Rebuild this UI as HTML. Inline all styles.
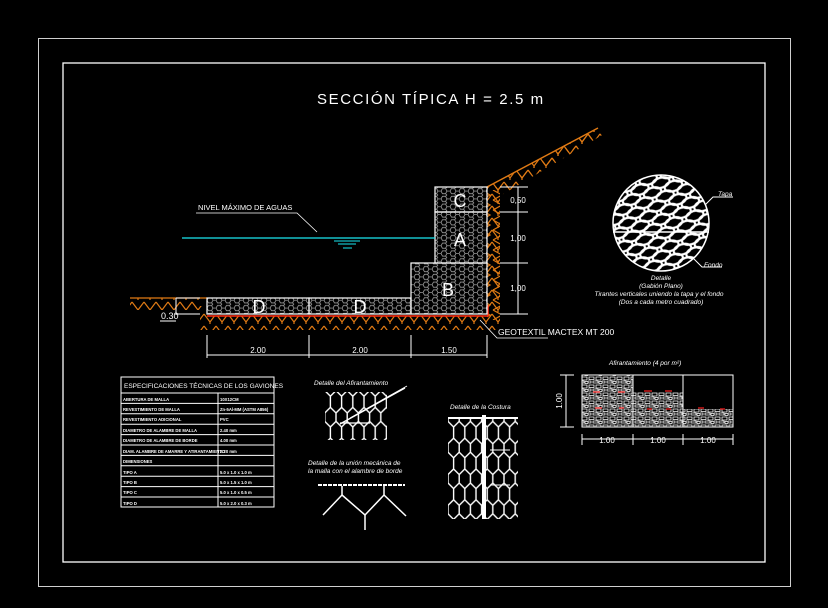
<!DOCTYPE html>
<html><head><meta charset="utf-8"><style>
html,body{margin:0;padding:0;background:#000;}
svg{display:block}
text{font-family:"Liberation Sans",sans-serif;fill:#fff}
</style></head><body>
<svg width="828" height="608" viewBox="0 0 828 608" xmlns="http://www.w3.org/2000/svg">
<defs>
<pattern id="hex" width="9" height="7.8" patternUnits="userSpaceOnUse">
<path d="M0,3.9 L1.5,1.3 L4.5,1.3 L6,3.9 L4.5,6.5 L1.5,6.5 Z M6,3.9 L9,3.9 M4.5,6.5 L6,7.8 M4.5,1.3 L6,0" fill="none" stroke="#9a9a9a" stroke-width="0.8"/>
</pattern>
<pattern id="hatch" width="12" height="12" patternUnits="userSpaceOnUse">
<path d="M0,2 L6,10 L12,2 M6,10 L6,12" fill="none" stroke="#e07a14" stroke-width="1.2"/>
</pattern>
<pattern id="hatchv" width="12" height="10" patternUnits="userSpaceOnUse">
<path d="M1,0 L10,5 L1,10" fill="none" stroke="#e07a14" stroke-width="1.2"/>
</pattern>
<pattern id="wmesh" width="16" height="22" patternUnits="userSpaceOnUse" patternTransform="scale(1.4)">
<path d="M4,0 L4,5 L0,9 L0,15 L4,19 L4,22 M4,5 L8,9 L8,15 L4,19 M8,9 L12,5 L16,9 M8,15 L12,19 L16,15 M12,5 L12,0 M12,19 L12,22 M16,9 L16,15" fill="none" stroke="#fff" stroke-width="1"/>
</pattern>
<pattern id="stone" width="14" height="8" patternUnits="userSpaceOnUse">
<rect width="14" height="8" fill="#000"/>
<path d="M1,1 h5 v2.5 h-5z M8,1 h5 v3 h-5z M0,5 h3 v2 h-3z M5,5 h5 v2 h-5z M11,5.5 h3 v2 h-3z" fill="none" stroke="#fff" stroke-width="0.8"/>
</pattern>
<pattern id="bigmesh" width="22" height="14" patternUnits="userSpaceOnUse" patternTransform="rotate(-18)">
<ellipse cx="11" cy="7" rx="9" ry="5" fill="none" stroke="#fff" stroke-width="2.2"/>
<ellipse cx="0" cy="0" rx="9" ry="5" fill="none" stroke="#fff" stroke-width="2.2"/>
<ellipse cx="22" cy="0" rx="9" ry="5" fill="none" stroke="#fff" stroke-width="2.2"/>
<ellipse cx="0" cy="14" rx="9" ry="5" fill="none" stroke="#fff" stroke-width="2.2"/>
<ellipse cx="22" cy="14" rx="9" ry="5" fill="none" stroke="#fff" stroke-width="2.2"/>
</pattern>
<clipPath id="circ"><circle cx="661" cy="223" r="48"/></clipPath>
</defs>
<rect width="828" height="608" fill="#000"/>
<rect x="38.5" y="38.5" width="752" height="548" fill="none" stroke="#cfcfcf" stroke-width="1"/>
<rect x="63" y="63" width="702" height="499" fill="none" stroke="#fff" stroke-width="1.3"/>

<text x="317" y="104" font-size="15" letter-spacing="1.6">SECCIÓN  TÍPICA  H  =  2.5  m</text>

<!-- ground hatching -->
<polygon points="130,298 200,298 200,306 207,306 207,316 487,316 487,187 500,187 598,128 604,134 500,196 500,330 200,330 200,310 130,310" fill="url(#hatch)"/>
<rect x="487" y="190" width="13" height="130" fill="url(#hatchv)"/>
<polygon points="487,187 598,128 602,133 498,193" fill="url(#hatch)"/>
<line x1="130" y1="298" x2="207" y2="298" stroke="#e07a14" stroke-width="1.2"/>
<line x1="487" y1="187" x2="598" y2="128" stroke="#e07a14" stroke-width="1.5"/>
<polyline points="207,316 488,316 488,305" fill="none" stroke="#ff2a10" stroke-width="1.5"/>

<!-- gabions -->
<g stroke="#fff" stroke-width="1.2">
<rect x="435" y="187" width="52" height="25" fill="url(#hex)"/>
<rect x="435" y="212" width="52" height="51" fill="url(#hex)"/>
<rect x="411" y="263" width="76" height="51" fill="url(#hex)"/>
<rect x="207" y="298" width="102" height="16" fill="url(#hex)"/>
<rect x="309" y="298" width="102" height="16" fill="url(#hex)"/>
</g>
<g font-size="18" text-anchor="middle">
<text x="460" y="207">C</text><text x="460" y="246">A</text><text x="448" y="296">B</text>
<text x="259" y="313">D</text><text x="360" y="313">D</text>
</g>
<!-- 0.30 -->
<polyline points="176,298 200,298" stroke="#fff" fill="none"/>
<line x1="176" y1="298" x2="176" y2="315" stroke="#fff"/>
<line x1="176" y1="314" x2="200" y2="314" stroke="#fff"/>
<text x="161" y="319" font-size="9">0.30</text>
<line x1="160" y1="321" x2="176" y2="321" stroke="#fff"/>

<!-- water -->
<line x1="182" y1="238" x2="435" y2="238" stroke="#19e6f0" stroke-width="1.3"/>
<g stroke="#19e6f0"><line x1="334" y1="241" x2="360" y2="241"/><line x1="338" y1="244" x2="356" y2="244"/><line x1="343" y1="248" x2="352" y2="248"/></g>
<text x="198" y="210" font-size="7.5">NIVEL MÁXIMO DE AGUAS</text>
<polyline points="196,213 297,213 317,232" fill="none" stroke="#fff" stroke-width="0.8"/>

<!-- right dims -->
<g stroke="#fff" stroke-width="1">
<line x1="518" y1="187" x2="518" y2="314"/>
<line x1="500" y1="187" x2="528" y2="187"/><line x1="500" y1="212" x2="528" y2="212"/>
<line x1="500" y1="263" x2="528" y2="263"/><line x1="500" y1="314" x2="528" y2="314"/>
</g>
<g font-size="8" text-anchor="middle"><text x="518" y="203">0,50</text><text x="518" y="241">1,00</text><text x="518" y="291">1,00</text></g>

<!-- bottom dims -->
<g stroke="#fff" stroke-width="1">
<line x1="207" y1="355" x2="487" y2="355"/>
<line x1="207" y1="335" x2="207" y2="358"/><line x1="309" y1="335" x2="309" y2="358"/>
<line x1="411" y1="335" x2="411" y2="358"/><line x1="487" y1="335" x2="487" y2="358"/>
</g>
<g font-size="8" text-anchor="middle"><text x="258" y="353">2.00</text><text x="360" y="353">2.00</text><text x="449" y="353">1.50</text></g>
<polyline points="480,320 497,338 548,338" fill="none" stroke="#fff" stroke-width="0.8"/>
<text x="498" y="335" font-size="8.5">GEOTEXTIL MACTEX MT 200</text>

<!-- circle detail -->
<circle cx="661" cy="223" r="48" fill="#000" stroke="#fff" stroke-width="1.5"/>
<rect x="610" y="172" width="104" height="102" fill="url(#bigmesh)" clip-path="url(#circ)"/>
<line x1="613" y1="232" x2="709" y2="232" stroke="#fff" stroke-width="1.5"/>
<polyline points="705,205 713,197 733,197" fill="none" stroke="#fff"/>
<text x="718" y="196" font-size="6.5" font-style="italic">Tapa</text>
<polyline points="693,258 702,267 722,267" fill="none" stroke="#fff"/>
<text x="704" y="267" font-size="6.5" font-style="italic">Fondo</text>
<g font-size="6.5" font-style="italic" text-anchor="middle">
<text x="661" y="280">Detalle</text><text x="661" y="288">(Gabión Plano)</text>
<text x="659" y="296">Tirantes verticales uniendo la tapa y el fondo</text>
<text x="661" y="304">(Dos a cada metro cuadrado)</text></g>

<!-- table -->
<g stroke="#fff" stroke-width="1" fill="none">
<rect x="121" y="377" width="153" height="130"/>
<line x1="121" y1="393" x2="274" y2="393"/>
<line x1="218" y1="393" x2="218" y2="507"/>
<line x1="121" y1="403.4" x2="274" y2="403.4"/><line x1="121" y1="413.8" x2="274" y2="413.8"/>
<line x1="121" y1="424.2" x2="274" y2="424.2"/><line x1="121" y1="434.6" x2="274" y2="434.6"/>
<line x1="121" y1="445" x2="274" y2="445"/><line x1="121" y1="455.4" x2="274" y2="455.4"/>
<line x1="121" y1="465.8" x2="274" y2="465.8"/><line x1="121" y1="476.2" x2="274" y2="476.2"/>
<line x1="121" y1="486.6" x2="274" y2="486.6"/><line x1="121" y1="497" x2="274" y2="497"/>
</g>
<text x="124" y="388" font-size="6.5">ESPECIFICACIONES TÉCNICAS DE LOS GAVIONES</text>
<g font-size="4.2" font-weight="bold">
<text x="123" y="401">ABERTURA DE MALLA</text><text x="220" y="401">10X12CM</text>
<text x="123" y="411">REVESTIMIENTO DE MALLA</text><text x="220" y="411">Zn-5Al-MM (ASTM A856)</text>
<text x="123" y="421">REVESTIMIENTO ADICIONAL</text><text x="220" y="421">PVC</text>
<text x="123" y="432">DIAMETRO DE ALAMBRE DE MALLA</text><text x="220" y="432">2.40 mm</text>
<text x="123" y="442">DIAMETRO DE ALAMBRE DE BORDE</text><text x="220" y="442">4.00 mm</text>
<text x="123" y="453">DIAM. ALAMBRE DE AMARRE Y ATIRANTAMIENTO</text><text x="220" y="453">2.20 mm</text>
<text x="123" y="463">DIMENSIONES</text>
<text x="123" y="474">TIPO A</text><text x="220" y="474">5.0 x 1.0 x 1.0 m</text>
<text x="123" y="484">TIPO B</text><text x="220" y="484">5.0 x 1.5 x 1.0 m</text>
<text x="123" y="494">TIPO C</text><text x="220" y="494">5.0 x 1.0 x 0.5 m</text>
<text x="123" y="505">TIPO D</text><text x="220" y="505">5.0 x 2.0 x 0.3 m</text>
</g>

<!-- afirantamiento detail -->
<text x="314" y="385" font-size="6.5" font-style="italic">Detalle del Afirantamiento</text>
<rect x="325" y="392" width="62" height="48" fill="url(#wmesh)"/>
<line x1="340" y1="424" x2="405" y2="388" stroke="#fff" stroke-width="1.3"/>
<line x1="350" y1="418" x2="407" y2="386" stroke="#fff" stroke-width="1"/>
<line x1="340" y1="423" x2="370" y2="423" stroke="#fff" stroke-width="1.2"/>

<!-- union detail -->
<text x="308" y="465" font-size="6.5" font-style="italic">Detalle de la unión mecánica de</text>
<text x="308" y="473" font-size="6.5" font-style="italic">la malla con el alambre de borde</text>
<line x1="318" y1="485" x2="405" y2="485" stroke="#fff" stroke-width="2" stroke-dasharray="4,1"/>
<g stroke="#fff" stroke-width="1.5" fill="none">
<polyline points="323,515 342,495 342,486"/><polyline points="342,495 365,515 384,495 384,486"/><polyline points="384,495 406,516"/>
<line x1="365" y1="515" x2="365" y2="530"/></g>

<!-- costura -->
<text x="450" y="409" font-size="6.5" font-style="italic">Detalle de la Costura</text>
<line x1="448" y1="418" x2="518" y2="418" stroke="#fff" stroke-width="2"/>
<rect x="448" y="419" width="70" height="100" fill="url(#wmesh)"/>
<rect x="482" y="415" width="4" height="104" fill="#fff"/>
<line x1="490" y1="450" x2="510" y2="450" stroke="#fff"/><line x1="490" y1="485" x2="510" y2="485" stroke="#fff"/>

<!-- aframework stone -->
<text x="609" y="365" font-size="6.5" font-style="italic">Afirantamiento (4 por m²)</text>
<rect x="582" y="375" width="51" height="52" fill="url(#stone)"/>
<rect x="633" y="392" width="50" height="35" fill="url(#stone)"/>
<rect x="683" y="409" width="50" height="18" fill="url(#stone)"/>
<rect x="582" y="375" width="151" height="52" fill="none" stroke="#fff"/>
<line x1="633" y1="375" x2="633" y2="427" stroke="#fff"/><line x1="683" y1="375" x2="683" y2="427" stroke="#fff"/>
<g stroke="#ff2020" stroke-width="1.2">
<line x1="593" y1="392" x2="600" y2="392"/><line x1="618" y1="392" x2="625" y2="392"/>
<line x1="595" y1="408" x2="602" y2="408"/><line x1="619" y1="408" x2="624" y2="408"/>
<line x1="644" y1="391" x2="652" y2="391"/><line x1="665" y1="391" x2="672" y2="391"/>
<line x1="647" y1="409" x2="652" y2="409"/><line x1="666" y1="409" x2="671" y2="409"/>
<line x1="698" y1="408" x2="704" y2="408"/><line x1="720" y1="409" x2="725" y2="409"/></g>
<g stroke="#fff"><line x1="566" y1="375" x2="566" y2="427"/><line x1="560" y1="375" x2="574" y2="375"/><line x1="560" y1="427" x2="574" y2="427"/>
<line x1="582" y1="439" x2="733" y2="439"/><line x1="582" y1="434" x2="582" y2="445"/><line x1="633" y1="434" x2="633" y2="445"/><line x1="683" y1="434" x2="683" y2="445"/><line x1="733" y1="434" x2="733" y2="445"/></g>
<text x="562" y="401" font-size="8" text-anchor="middle" transform="rotate(-90 562 401)">1.00</text>
<g font-size="8" text-anchor="middle"><text x="607" y="443">1.00</text><text x="658" y="443">1.00</text><text x="708" y="443">1.00</text></g>
</svg>
</body></html>
